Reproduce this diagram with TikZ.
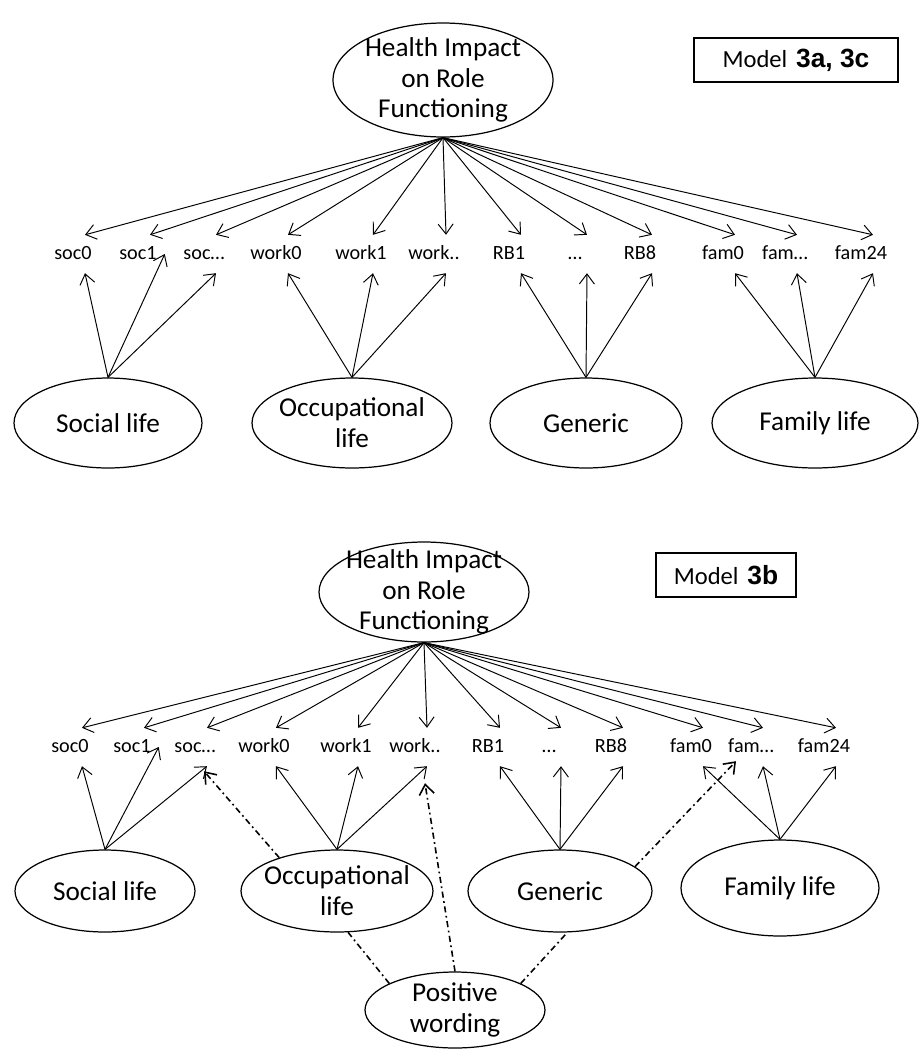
\documentclass[tikz,border=0pt]{standalone}
\usepackage{fontspec}
\setmainfont{Carlito}
\newfontfamily\numfont{Liberation Sans}
\usetikzlibrary{arrows.meta,shapes.geometric}

\tikzset{
  latent/.style={ellipse, draw, line width=0.7pt, inner sep=0pt},
  item/.style={font=\fontsize{11.5}{13}\selectfont, inner xsep=1pt, inner ysep=0.21cm,
    text height=8pt, text depth=1.5pt},
  load/.style={line width=0.55pt, -{Straight Barb[length=2mm,width=3mm]}},
  wording/.style={load, line width=0.9pt, dash pattern=on 3.5pt off 2pt on 1pt off 2pt},
  modelbox/.style={draw, line width=0.8pt, minimum height=0.88cm, inner sep=0pt,
    font=\fontsize{14}{16}\selectfont},
}
\newcommand{\modelnum}[1]{{\numfont\bfseries\fontsize{15}{18}\selectfont #1}}

\begin{document}
\begin{tikzpicture}[x=0.02cm, y=-0.02cm,
    every label/.style={font=\fontsize{15.5}{17.5}\selectfont, align=center, inner sep=0pt}]
  \useasboundingbox (0,0) rectangle (920,1049);

  % model 3a, 3c
  \node[latent, minimum width=4.4cm, minimum height=2.28cm,
    label={center:Health Impact\\on Role\\Functioning}] (thealth) at (443,80) {};
  \node[modelbox, minimum width=4.08cm] (tmodel) at (796,60)
    {Model\hspace{5pt}\modelnum{3a, 3c}\hspace{0.44cm}};

  \foreach \n/\t/\x in {soc0/soc0/73, soc1/soc1/138, socx/soc\dots/204,
      work0/work0/276, work1/work1/361, workx/work../434,
      rb1/RB1/509, rbx/\dots/575, rb8/RB8/640,
      fam0/fam0/723, famx/fam\dots/785, fam24/fam24/861}
    \node[item] (t\n) at (\x,254) {\t};

  \foreach \n in {soc0,soc1,socx,work0,work1,workx,rb1,rbx,rb8,fam0,famx,fam24}
    \draw[load] (thealth.south) -- ([xshift=0.24cm]t\n.north);

  \node[latent, minimum width=3.76cm, minimum height=1.8cm, label={center:Social life}] (tsoc) at (108,423) {};
  \node[latent, minimum width=4.0cm, minimum height=1.8cm, label={center:Occupational\\life}] (tocc) at (352,423) {};
  \node[latent, minimum width=3.84cm, minimum height=1.8cm, label={center:Generic}] (tgen) at (586,423) {};
  \node[latent, minimum width=4.12cm, minimum height=1.8cm, label={center:Family life}] (tfam) at (815,423) {};

  \draw[load] (tsoc.north) -- ([xshift=0.24cm]tsoc0.south);
  \draw[load] (tsoc.north) -- ([xshift=0.12cm]tsoc1.east);
  \draw[load] (tsoc.north) -- ([xshift=0.24cm]tsocx.south);
  \foreach \f/\a/\b/\c in {occ/work0/work1/workx, gen/rb1/rbx/rb8, fam/fam0/famx/fam24}
    \foreach \n in {\a,\b,\c}
      \draw[load] (t\f.north) -- ([xshift=0.24cm]t\n.south);

  % model 3b
  \node[latent, minimum width=4.2cm, minimum height=2.0cm,
    label={center:Health Impact\\on Role\\Functioning}] (bhealth) at (424,592) {};
  \node[modelbox, minimum width=2.8cm] (bmodel) at (726,575)
    {Model\hspace{5pt}\modelnum{3b}};

  \foreach \n/\t/\x in {soc0/soc0/70, soc1/soc1/132, socx/soc\dots/195,
      work0/work0/264, work1/work1/346, workx/work../415,
      rb1/RB1/488, rbx/\dots/549, rb8/RB8/611,
      fam0/fam0/691, famx/fam\dots/751, fam24/fam24/824}
    \node[item] (b\n) at (\x,747) {\t};

  \foreach \n in {soc0,soc1,socx,work0,work1,workx,rb1,rbx,rb8,fam0,famx,fam24}
    \draw[load] (bhealth.south) -- ([xshift=0.24cm]b\n.north);

  \node[latent, minimum width=3.6cm, minimum height=1.64cm, label={center:Social life}] (bsoc) at (105,891) {};
  \node[latent, minimum width=3.84cm, minimum height=1.64cm, label={center:Occupational\\life}] (bocc) at (337,891) {};
  \node[latent, minimum width=3.68cm, minimum height=1.64cm, label={center:Generic}] (bgen) at (560,891) {};
  \node[latent, minimum width=3.96cm, minimum height=1.92cm, label={center:Family life}] (bfam) at (780,888) {};
  \node[latent, minimum width=3.6cm, minimum height=1.52cm, label={center:Positive\\wording}] (bpos) at (455,1010) {};

  \draw[load] (bsoc.north) -- ([xshift=0.24cm]bsoc0.south);
  \draw[load] (bsoc.north) -- ([xshift=0.12cm]bsoc1.east);
  \draw[load] (bsoc.north) -- ([xshift=0.24cm]bsocx.south);
  \foreach \f/\a/\b/\c in {occ/work0/work1/workx, gen/rb1/rbx/rb8, fam/fam0/famx/fam24}
    \foreach \n in {\a,\b,\c}
      \draw[load] (b\f.north) -- ([xshift=0.24cm]b\n.south);

  % positive wording
  \draw[wording] (bocc.150) -- ([xshift=0.18cm,yshift=-0.1cm]bsocx.south);
  \draw[wording] (bpos.north) -- ([xshift=0.2cm,yshift=-0.34cm]bworkx.south);
  \draw[wording] (bgen.18) -- ([xshift=-0.3cm,yshift=0.1cm]bfamx.south);
  \draw[wording, -] (bpos.158) -- (bocc.-75);
  \draw[wording, -] (bpos.22) -- (bgen.-80);
\end{tikzpicture}
\end{document}
